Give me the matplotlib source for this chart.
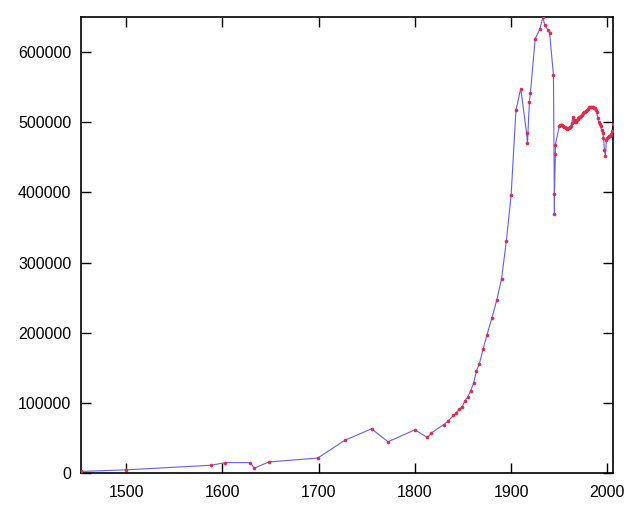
import matplotlib
matplotlib.use("Agg")
from matplotlib import pyplot as plt

# population over time
years = [1453, 1500, 1588, 1603, 1629, 1633, 1648, 1699, 1727, 1755, 1772,
         1800, 1813, 1817, 1830, 1834, 1840, 1843, 1846, 1849, 1852, 1855,
         1858, 1861, 1864, 1867, 1871, 1875, 1880, 1885, 1890, 1895, 1900,
         1905, 1910, 1916, 1917, 1919, 1920, 1925, 1930, 1933, 1935, 1938,
         1940, 1944, 1945, 1945, 1946, 1946,
         1950, 1951, 1952, 1953, 1954, 1955, 1956, 1957, 1958, 1959,
         1960, 1961, 1962, 1963, 1964, 1965, 1966, 1967, 1968, 1969,
         1970, 1971, 1972, 1973, 1974, 1975, 1976, 1977, 1978, 1979,
         1980, 1981, 1982, 1983, 1984, 1985, 1986, 1987, 1988, 1989,
         1990, 1991, 1992, 1993, 1994, 1995, 1996, 1997, 1998, 1999,
         2000, 2001, 2002, 2003, 2004, 2005, 2006]
population = [2200, 4500, 11000, 14800, 14800, 6700, 15700, 21300, 46500, 63000, 44500,
              61500, 50600, 57000, 69000, 73400, 82000, 86000, 91000, 94000, 103000, 108500,
              117400, 128000, 145700, 156000, 177000, 197300, 220800, 246000, 276500, 330000, 396000,
              517000, 548000, 485000, 470000, 529500, 541000, 619000, 633000, 650000, 638000, 632000,
              627000, 567000, 369000, 397000, 454500, 468000,
              494000, 495500, 496000, 496000, 495000, 493500, 492500, 491500, 491000, 491500,
              492000, 492500, 494000, 499000, 507000, 503000, 500000, 501000, 502500, 504000,
              505500, 507000, 508000, 509500, 511000, 512500, 514000, 515000, 516500, 518000,
              519500, 521500, 522000, 521500, 521000, 521000, 520500, 520000, 518000, 514000,
              506000, 500000, 497000, 494000, 489000, 484000, 478000, 460000, 452000, 475000,
              477000, 479000, 480000, 481000, 483000, 488000, 497000]

xticks = [1500, 1600, 1700, 1800, 1900, 2000]
yticks = [0, 100000, 200000, 300000, 400000, 500000, 600000]

plt.rcParams['font.family'] = ['Liberation Sans', 'DejaVu Sans']

fig = plt.figure(figsize=(6.4, 5.12), dpi=100)
ax = fig.add_axes([0.1266, 0.0762, 0.958 - 0.1266, 0.9668 - 0.0762])

ax.plot(years, population, color='#6060f0', linewidth=0.8, zorder=2)
ax.plot(years, population, linestyle='none', marker='o', markersize=2.6,
        markeredgewidth=0, color='#e4284e', zorder=3)

ax.set_xlim(min(years), max(years))
ax.set_ylim(0, max(population))
ax.set_xticks(xticks)
ax.set_yticks(yticks)
ax.tick_params(direction='in', length=7, width=1, top=True, right=True,
               labelsize=11.5, colors='black')
ax.tick_params(axis='x', pad=9)
ax.tick_params(axis='y', pad=7)
for side in ax.spines.values():
    side.set_linewidth(1.2)

fig.savefig('out.png', dpi=100)
